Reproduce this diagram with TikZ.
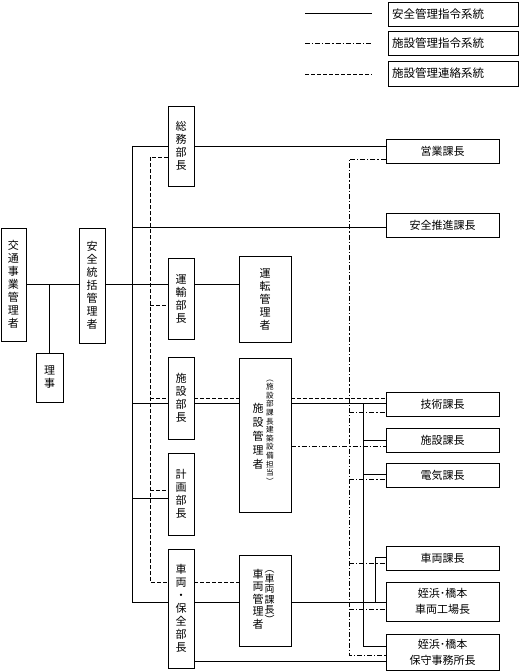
\documentclass[tikz,border=0pt]{standalone}
\usepackage{fontspec}
\setmainfont{Noto Sans CJK JP}
\begin{document}
\begin{tikzpicture}[x=1pt,y=-1pt,
  box/.style={draw, line width=0.9pt, rectangle, inner sep=0pt},
  sol/.style={line width=0.9pt},
  dsh/.style={line width=0.8pt, dash pattern=on 4pt off 2pt},
  dd/.style={line width=0.8pt, dash pattern=on 5pt off 2pt on 1.2pt off 2pt},
  vt/.style={align=center, font=\fontsize{11}{13}\selectfont},
  ht/.style={align=center, font=\fontsize{11}{16}\selectfont},
  lt/.style={anchor=west, inner sep=0pt, font=\fontsize{11.5}{14}\selectfont},
  vbox/.style={box, minimum width=26pt},
  hbox/.style={box, minimum width=113pt, minimum height=24pt}]
\useasboundingbox (0,0) rectangle (520,671);

% legend
\coordinate (l1a) at (305,13); \coordinate (l1b) at (372,13);
\coordinate (l2a) at (305,43); \coordinate (l2b) at (372,43);
\coordinate (l3a) at (305,74); \coordinate (l3b) at (372,74);
\draw[sol] (l1a) -- (l1b);
\draw[dd] (l2a) -- (l2b);
\draw[dsh] (l3a) -- (l3b);
\node[box, minimum width=130pt, minimum height=24pt] (lg1) at (453,14) {};
\node[box, minimum width=130pt, minimum height=24pt] (lg2) at (453,43) {};
\node[box, minimum width=130pt, minimum height=25pt] (lg3) at (453,73.5) {};
\node[lt] (lg1t) at (392,14) {安全管理指令系統};
\node[lt] (lg2t) at (392,43) {施設管理指令系統};
\node[lt] (lg3t) at (392,73.5) {施設管理連絡系統};

% left boxes
\node[vbox, minimum width=25pt, minimum height=113pt, vt] (koutsu) at (13.5,284.5) {交\\通\\事\\業\\管\\理\\者};
\node[vbox, minimum height=115pt, vt] (anzen) at (92,285.5) {安\\全\\統\\括\\管\\理\\者};
\node[vbox, minimum width=27pt, minimum height=49pt, vt] (riji) at (49.5,377.5) {理\\事};

% department heads
\node[vbox, minimum height=80pt, vt] (soumu) at (181,146) {総\\務\\部\\長};
\node[vbox, minimum height=81pt, vt] (unyu) at (181,298.5) {運\\輸\\部\\長};
\node[vbox, minimum height=82pt, vt] (shisetsu) at (181,398) {施\\設\\部\\長};
\node[vbox, minimum height=82pt, vt] (keikaku) at (181,494) {計\\画\\部\\長};
\node[vbox, minimum height=119pt, vt] (sharyo) at (181,608.5) {車\\両\\・\\保\\全\\部\\長};

% managers
\node[box, minimum width=52pt, minimum height=86pt, vt] (unten) at (265,299) {運\\転\\管\\理\\者};
\node[box, minimum width=52pt, minimum height=154pt] (skanri) at (265,435) {};
\node[align=center, inner sep=0pt, font=\fontsize{11}{14}\selectfont] (skanrit) at (258,436) {施\\設\\管\\理\\者};
\node[align=center, inner sep=0pt, font=\fontsize{7.6}{8.6}\selectfont] (skanris) at (270,432) {︵\\施\\設\\部\\課\\長\\建\\築\\設\\備\\担\\当\\︶};
\node[box, minimum width=52pt, minimum height=91pt] (rkanri) at (265,600.5) {};
\node[align=center, inner sep=0pt, font=\fontsize{11}{12.5}\selectfont] (rkanrit) at (258,599) {車\\両\\管\\理\\者};
\node[align=center, inner sep=0pt, font=\fontsize{10}{10.2}\selectfont] (rkanris) at (269.5,597) {︵\\車\\両\\課\\長\\︶};

% section chiefs
\node[hbox, ht] (eigyo) at (442.5,151) {営業課長};
\node[hbox, ht] (suishin) at (442.5,225.5) {安全推進課長};
\node[hbox, ht] (gijutsu) at (442.5,404) {技術課長};
\node[hbox, ht] (shisetsuka) at (442.5,440) {施設課長};
\node[hbox, ht] (denki) at (442.5,475) {電気課長};
\node[hbox, ht] (sharyoka) at (442.5,558) {車両課長};
\node[hbox, minimum height=39pt, ht] (kojo) at (442.5,601.5) {姪浜･橋本\\車両工場長};
\node[hbox, minimum height=36pt, ht] (hoshu) at (442.5,652) {姪浜･橋本\\保守事務所長};

% solid lines
\coordinate (busT) at (132,146);
\coordinate (busB) at (132,602);
\draw[sol] (busT) -- (busB);
\draw[sol] (koutsu.east |- 0,284) -- (anzen.west |- 0,284);
\draw[sol] (riji.north |- 0,284) -- (riji.north);
\draw[sol] (anzen.east |- 0,284) -- (busT |- 0,284);
\draw[sol] (busT) -- (soumu.west |- busT);
\draw[sol] (soumu.east |- busT) -- (eigyo.west |- busT);
\draw[sol] (busT |- 0,227) -- (suishin.west |- 0,227);
\draw[sol] (busT |- 0,284) -- (unyu.west |- 0,284);
\draw[sol] (unyu.east |- 0,284) -- (unten.west |- 0,284);
\draw[sol] (busT |- 0,403) -- (shisetsu.west |- 0,403);
\draw[sol] (shisetsu.east |- 0,403) -- (skanri.west |- 0,403);
\draw[sol] (skanri.east |- 0,403) -- (gijutsu.west |- 0,403);
\coordinate (v1t) at (363,403);
\coordinate (v1b) at (363,646);
\draw[sol] (v1t) -- (v1b) -- (hoshu.west |- v1b);
\draw[sol] (v1t |- 0,440) -- (shisetsuka.west |- 0,440);
\draw[sol] (v1t |- 0,474) -- (denki.west |- 0,474);
\draw[sol] (busT |- 0,498) -- (keikaku.west |- 0,498);
\draw[sol] (busB) -- (sharyo.west |- busB);
\draw[sol] (sharyo.east |- busB) -- (rkanri.west |- busB);
\draw[sol] (rkanri.east |- busB) -- (kojo.west |- busB);
\coordinate (v2b) at (375,602);
\draw[sol] (v2b) -- (375,557) -- (sharyoka.west |- 0,557);
\draw[sol] (sharyo.east |- 0,661) -- (hoshu.west |- 0,661);

% dashed lines
\coordinate (dT) at (150,157);
\coordinate (dB) at (150,582);
\draw[dsh] (soumu.west |- dT) -- (dT) -- (dB) -- (sharyo.west |- dB);
\draw[dsh] (dT |- 0,305) -- (unyu.west |- 0,305);
\draw[dsh] (dT |- 0,398) -- (shisetsu.west |- 0,398);
\draw[dsh] (shisetsu.east |- 0,398) -- (skanri.west |- 0,398);
\draw[dsh] (skanri.east |- 0,398) -- (gijutsu.west |- 0,398);
\draw[dsh] (dT |- 0,490) -- (keikaku.west |- 0,490);
\draw[dsh] (sharyo.east |- dB) -- (rkanri.west |- dB);

% dash-dot lines
\coordinate (ddT) at (349,159);
\coordinate (ddB) at (349,655);
\draw[dd] (eigyo.west |- ddT) -- (ddT) -- (ddB) -- (hoshu.west |- ddB);
\draw[dd] (ddT |- 0,412) -- (gijutsu.west |- 0,412);
\draw[dd] (ddT |- 0,479) -- (denki.west |- 0,479);
\draw[dd] (ddT |- 0,563) -- (sharyoka.west |- 0,563);
\draw[dd] (ddT |- 0,609) -- (kojo.west |- 0,609);
\draw[dd] (skanri.east |- 0,446) -- (shisetsuka.west |- 0,446);
\end{tikzpicture}
\end{document}
